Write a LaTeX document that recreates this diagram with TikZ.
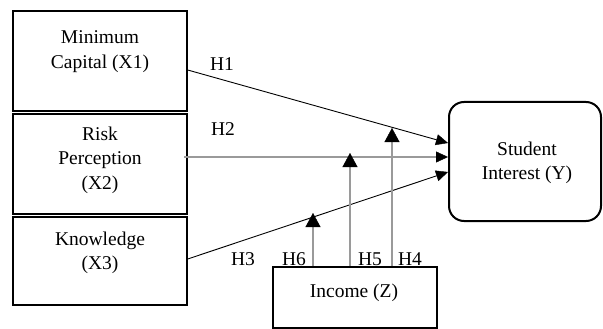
\documentclass[tikz,border=0pt]{standalone}
\usepackage{fontspec}
\setmainfont{Liberation Serif}
\usetikzlibrary{arrows.meta}
\definecolor{modgray}{HTML}{9A9A9A}
\tikzset{
  varbox/.style={draw, line width=1.4pt, rectangle, inner sep=0pt, minimum width=174pt},
  txt/.style={align=center, inner sep=0pt, font=\fontsize{19.5}{24.5}\selectfont},
  hyp/.style={-{Triangle[length=12pt,width=11pt,color=black,line width=0.4pt]}, line width=0.9pt},
  mainpath/.style={-{Triangle[length=12pt,width=11pt,color=black,line width=0.4pt]}, line width=2.4pt, draw=modgray},
  modpath/.style={-{Triangle[length=14pt,width=15pt,color=black,line width=0.4pt]}, line width=1.8pt, draw=modgray},
  hlabel/.style={inner sep=0pt, font=\fontsize{19.5}{24}\selectfont}
}
\begin{document}
\begin{tikzpicture}[x=1pt,y=-1pt]
\useasboundingbox (0,0) rectangle (603,329);

% independent variables
\node[varbox, minimum height=100pt] (x1) at (100,61) {};
\node[varbox, minimum height=100pt] (x2) at (100,164) {};
\node[varbox, minimum height=88pt] (x3) at (100,261) {};
\node[txt] (x1t) at (100,51.5) {Minimum\\Capital (X1)};
\node[txt] (x2t) at (100,160) {Risk\\Perception\\(X2)};
\node[txt] (x3t) at (100,253) {Knowledge\\(X3)};

% dependent variable and moderator
\node[draw, line width=2pt, rounded corners=15pt, minimum width=152pt, minimum height=119pt, inner sep=0pt] (y) at (525,161.5) {};
\node[txt] (yt) at (527,163) {Student\\Interest (Y)};
\node[draw, line width=2pt, minimum width=164pt, minimum height=61pt, inner sep=0pt] (z) at (355,297.5) {};
\node[txt] (zt) at (354,292.5) {Income (Z)};

% path end points
\coordinate (s1) at (x1.east |- 0,70);
\coordinate (s2) at (184,157);
\coordinate (s3) at (x3.east |- 0,259);
\coordinate (t1) at (y.west |- 0,143);
\coordinate (t2) at (y.west |- 0,157);
\coordinate (t3) at (y.west |- 0,172);
\coordinate (m6) at (313,213);
\coordinate (m5) at (350,153);
\coordinate (m4) at (392,128);

% direct effects
\draw[mainpath] (s2) -- (t2);
\draw[hyp] (s1) -- (t1);
\draw[hyp] (s3) -- (t3);

% moderating effects
\draw[modpath] (z.north -| m6) -- (m6);
\draw[modpath] (z.north -| m5) -- (m5);
\draw[modpath] (z.north -| m4) -- (m4);

% hypothesis labels
\node[hlabel] (h1) at (222,64) {H1};
\node[hlabel] (h2) at (223,129) {H2};
\node[hlabel] (h3) at (243,259) {H3};
\node[hlabel] (h6) at (294,259) {H6};
\node[hlabel] (h5) at (370,259) {H5};
\node[hlabel] (h4) at (410,259) {H4};
\end{tikzpicture}
\end{document}
